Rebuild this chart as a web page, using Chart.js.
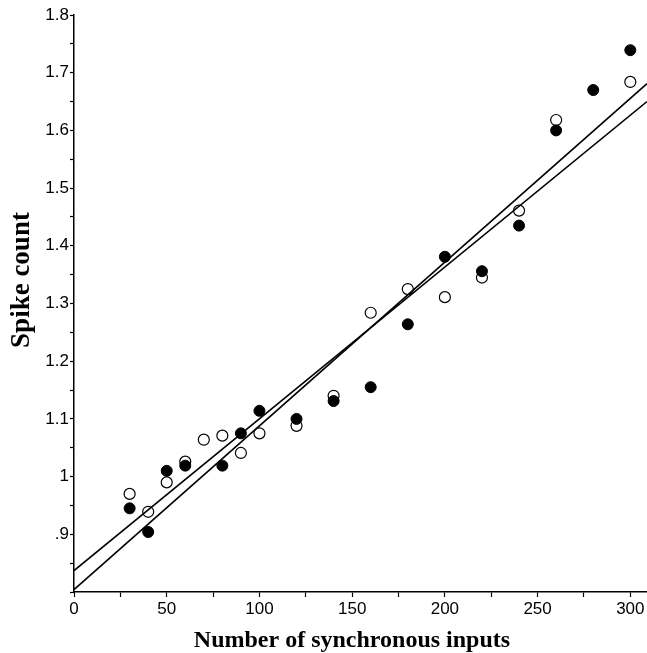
<!DOCTYPE html>
<html>
<head>
<meta charset="utf-8">
<script src="https://cdn.jsdelivr.net/npm/chart.js@4.4.1/dist/chart.umd.min.js"></script>
<style>
  html, body { margin: 0; padding: 0; background: #fff; }
  #wrap { width: 647px; height: 653px; }
</style>
</head>
<body>
<div id="wrap"><canvas id="spikeChart" width="647" height="653"></canvas></div>
<script>
  // filled circles
  const filledX = [30, 40, 50, 60, 80, 90, 100, 120, 140, 160, 180, 200, 220, 240, 260, 280, 300];
  const filledY = [0.945, 0.904, 1.010, 1.019, 1.019, 1.075, 1.114, 1.100, 1.131, 1.155, 1.264, 1.381, 1.356, 1.435, 1.600, 1.670, 1.739];
  // open circles
  const openX = [30, 40, 50, 60, 70, 80, 90, 100, 120, 140, 160, 180, 200, 220, 240, 260, 300];
  const openY = [0.970, 0.939, 0.990, 1.026, 1.064, 1.071, 1.041, 1.075, 1.088, 1.140, 1.284, 1.325, 1.311, 1.345, 1.461, 1.618, 1.684];
  // regression lines (end points)
  const fitX = [0, 309];
  const fitFilled = [0.804, 1.681];
  const fitOpen = [0.837, 1.650];

  const xTitle = 'Number of synchronous inputs';
  const yTitle = 'Spike count';

  const toPoints = (xs, ys) => xs.map((x, i) => ({ x: x, y: ys[i] }));

  const black = '#000';
  const serif = '"Liberation Serif", "Times New Roman", serif';
  const sans = '"Liberation Sans", Arial, sans-serif';

  // axis titles drawn by hand so they sit where the original has them
  const axisTitles = {
    id: 'axisTitles',
    afterDraw(chart) {
      const c = chart.ctx;
      c.save();
      c.fillStyle = black;
      c.textBaseline = 'alphabetic';
      c.textAlign = 'center';
      c.font = 'bold 24px ' + serif;
      c.fillText(xTitle, 352, 647);
      c.translate(29, 280);
      c.rotate(-Math.PI / 2);
      c.font = 'bold 27px ' + serif;
      c.fillText(yTitle, 0, 0);
      c.restore();
    }
  };

  const ctx = document.getElementById('spikeChart').getContext('2d');
  const spikeChart = new Chart(ctx, {
    type: 'scatter',
    data: {
      datasets: [
        {
          label: 'filled',
          data: toPoints(filledX, filledY),
          pointRadius: 5.5,
          pointBackgroundColor: black,
          pointBorderColor: black,
          pointBorderWidth: 1,
          order: 1
        },
        {
          label: 'open',
          data: toPoints(openX, openY),
          pointRadius: 5.5,
          pointBackgroundColor: '#fff',
          pointBorderColor: black,
          pointBorderWidth: 1.2,
          order: 2
        },
        {
          label: 'fit filled',
          data: toPoints(fitX, fitFilled),
          showLine: true,
          borderColor: black,
          borderWidth: 1.6,
          pointRadius: 0,
          order: 0
        },
        {
          label: 'fit open',
          data: toPoints(fitX, fitOpen),
          showLine: true,
          borderColor: black,
          borderWidth: 1.6,
          pointRadius: 0,
          order: 0
        }
      ]
    },
    plugins: [axisTitles],
    options: {
      responsive: false,
      animation: false,
      layout: { autoPadding: false, padding: { top: 15, right: 0, left: 0, bottom: 0 } },
      plugins: {
        legend: { display: false },
        tooltip: { enabled: false }
      },
      scales: {
        x: {
          type: 'linear',
          min: 0,
          max: 309,
          afterFit: function (scale) {
            scale.height = 61;
            scale.paddingRight = 0;
            scale.paddingLeft = 0;
          },
          border: { color: black, width: 1.5 },
          grid: { drawOnChartArea: false, color: black, tickLength: 5, tickWidth: 1.2 },
          ticks: {
            stepSize: 25,
            includeBounds: false,
            maxRotation: 0,
            autoSkip: false,
            color: black,
            padding: 2,
            font: { family: sans, size: 17 },
            callback: function (v) { return v % 50 === 0 ? String(v) : ''; }
          }
        },
        y: {
          type: 'linear',
          min: 0.8,
          max: 1.8,
          afterFit: function (scale) { scale.width = 74; },
          border: { color: black, width: 1.5 },
          grid: { drawOnChartArea: false, color: black, tickLength: 4, tickWidth: 1.2 },
          ticks: {
            stepSize: 0.05,
            includeBounds: false,
            autoSkip: false,
            color: black,
            padding: 1,
            font: { family: sans, size: 17 },
            callback: function (v) {
              const t = Math.round(v * 100);
              if (t % 10 !== 0 || t < 85) return '';
              return String(t / 100).replace(/^0/, '');
            }
          }
        }
      }
    }
  });
</script>
</body>
</html>
